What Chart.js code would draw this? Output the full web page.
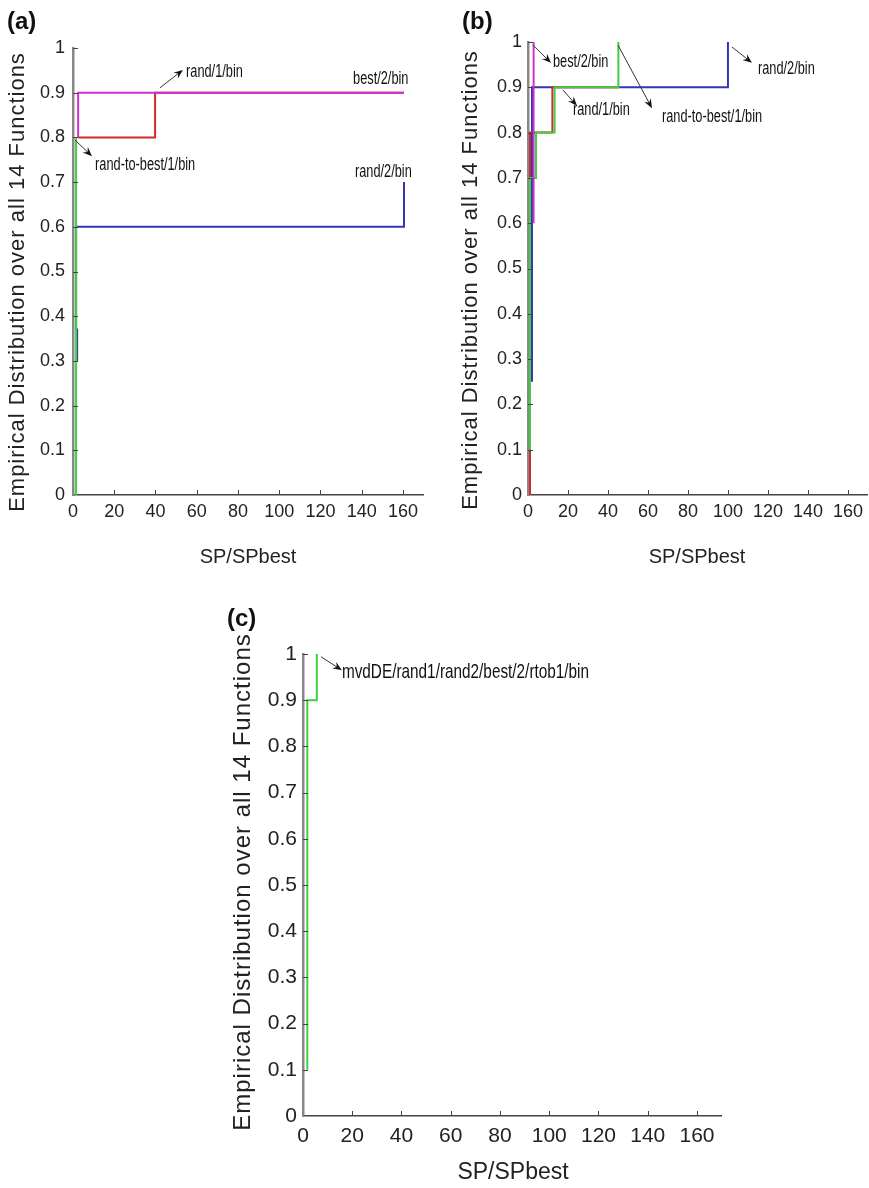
<!DOCTYPE html>
<html>
<head>
<meta charset="utf-8">
<title>Empirical distribution of SP/SPbest</title>
<script src="https://cdn.jsdelivr.net/npm/chart.js@4.4.1/dist/chart.umd.min.js"></script>
<style>
  body { margin: 0; background: #fff; width: 869px; height: 1188px; position: relative; overflow: hidden; }
  .panel { position: absolute; }
  .tag { position: absolute; font: bold 24px 'Liberation Sans', Arial, sans-serif; line-height: 1; color: #111; }
</style>
</head>
<body>
<div class="panel" style="left:0;top:0"><canvas id="chartA" width="440" height="590"></canvas></div>
<div class="panel" style="left:440px;top:0"><canvas id="chartB" width="429" height="590"></canvas></div>
<div class="panel" style="left:200px;top:590px"><canvas id="chartC" width="560" height="598"></canvas></div>
<div class="tag" style="left:7px;top:9px">(a)</div>
<div class="tag" style="left:462px;top:9px">(b)</div>
<div class="tag" style="left:227px;top:606px">(c)</div>
<script>
// --- valores (x = SP/SPbest, y = distribución empírica) ---
const xTicks = [0, 20, 40, 60, 80, 100, 120, 140, 160];
const yTicks = [0, 0.1, 0.2, 0.3, 0.4, 0.5, 0.6, 0.7, 0.8, 0.9, 1];

// panel (a)
const aBest2X = [2.5, 2.5, 160.5];
const aBest2Y = [0.8, 0.9, 0.9];
const aRtb1X = [1.5, 1.5];
const aRtb1Y = [0, 0.8];
const aRand1X = [2.5, 39.8, 160.5];
const aRand1Y = [0.8, 0.9, 0.9];
const aRand2X = [2, 2, 1.5, 160.5];
const aRand2Y = [0.3, 0.37, 0.6, 0.7];

// panel (b)
const bBest2X = [2.8, 2.8];
const bBest2Y = [0.6, 1.0];
const bRtb1X = [1, 1, 4, 13.3, 45.2];
const bRtb1Y = [0.1, 0.7, 0.8, 0.9, 1.0];
const bRand1X = [1, 1, 12.2, 45];
const bRand1Y = [0, 0.8, 0.9, 0.9];
const bRand2X = [2, 2, 100];
const bRand2Y = [0.25, 0.9, 1.0];

// panel (c)
const cMvdeX = [1.75, 1.75, 5.6];
const cMvdeY = [0.1, 0.9, 1.0];

// etiquetas con flecha (coordenadas en unidades de datos)
const aNotes = [
  { text: 'rand/1/bin', at: [54.8, 0.946], from: [42.2, 0.911], to: [53.3, 0.951] },
  { text: 'best/2/bin', at: [135.8, 0.931] },
  { text: 'rand-to-best/1/bin', at: [10.7, 0.738], from: [1.0, 0.794], to: [9.2, 0.758] },
  { text: 'rand/2/bin', at: [136.7, 0.723] }
];
const bNotes = [
  { text: 'best/2/bin', at: [12.5, 0.956], from: [2.5, 0.993], to: [11.5, 0.954] },
  { text: 'rand/1/bin', at: [22.5, 0.850], from: [17.5, 0.894], to: [24.5, 0.859] },
  { text: 'rand-to-best/1/bin', at: [67, 0.834], from: [45, 0.993], to: [62, 0.854] },
  { text: 'rand/2/bin', at: [115, 0.940], from: [102, 0.989], to: [112, 0.954] }
];
const cNotes = [
  { text: 'mvdDE/rand1/rand2/best/2/rtob1/bin', at: [15.8, 0.961], from: [7.3, 0.994], to: [15.8, 0.965] }
];

const yTitle = 'Empirical Distribution over all 14 Functions';
const xTitle = 'SP/SPbest';

const MAGENTA = '#cc33cc', GREEN = '#3fcf3f', RED = '#d12b2b', BLUE = '#3535b5';
const regular = "'Liberation Sans', Arial, sans-serif";

const pts = (xs, ys) => xs.map((x, i) => ({ x: x, y: ys[i] }));

function serie(label, xs, ys, color) {
  return {
    label: label,
    data: pts(xs, ys),
    borderColor: color,
    borderWidth: 2,
    pointRadius: 0,
    stepped: 'before',
    fill: false
  };
}

// dibuja ticks hacia dentro, títulos de ejes y anotaciones
const annotate = {
  id: 'annotate',
  afterDraw(chart, args, opts) {
    const { ctx, chartArea } = chart;
    const xs = chart.scales.x, ys = chart.scales.y;
    ctx.save();

    // ticks interiores (estilo MATLAB)
    ctx.strokeStyle = '#444';
    ctx.lineWidth = 1;
    xs.ticks.forEach(t => {
      if (t.value === 0) return;
      const px = Math.round(xs.getPixelForValue(t.value)) + 0.5;
      ctx.beginPath();
      ctx.moveTo(px, chartArea.bottom);
      ctx.lineTo(px, chartArea.bottom - 5);
      ctx.stroke();
    });
    ys.ticks.forEach(t => {
      if (t.value === 0) return;
      const py = Math.round(ys.getPixelForValue(t.value)) + 0.5;
      ctx.beginPath();
      ctx.moveTo(chartArea.left, py);
      ctx.lineTo(chartArea.left + 5, py);
      ctx.stroke();
    });

    // flechas y textos (texto estrechado, como Arial Narrow)
    ctx.fillStyle = '#111';
    ctx.font = opts.noteSize + 'px ' + regular;
    ctx.textAlign = 'left';
    ctx.textBaseline = 'middle';
    (opts.notes || []).forEach(n => {
      if (n.from) {
        const x1 = xs.getPixelForValue(n.from[0]), y1 = ys.getPixelForValue(n.from[1]);
        const x2 = xs.getPixelForValue(n.to[0]), y2 = ys.getPixelForValue(n.to[1]);
        const ang = Math.atan2(y2 - y1, x2 - x1);
        const L = 10, w = 0.38;
        ctx.strokeStyle = '#333';
        ctx.beginPath();
        ctx.moveTo(x1, y1);
        ctx.lineTo(x2 - Math.cos(ang) * 5, y2 - Math.sin(ang) * 5);
        ctx.stroke();
        ctx.beginPath();
        ctx.moveTo(x2, y2);
        ctx.lineTo(x2 - L * Math.cos(ang - w), y2 - L * Math.sin(ang - w));
        ctx.lineTo(x2 - L * 0.6 * Math.cos(ang), y2 - L * 0.6 * Math.sin(ang));
        ctx.lineTo(x2 - L * Math.cos(ang + w), y2 - L * Math.sin(ang + w));
        ctx.closePath();
        ctx.fill();
      }
      ctx.save();
      ctx.translate(xs.getPixelForValue(n.at[0]), ys.getPixelForValue(n.at[1]));
      ctx.scale(0.73, 1);
      ctx.fillText(n.text, 0, 0);
      ctx.restore();
    });

    // títulos de los ejes
    ctx.fillStyle = '#222';
    ctx.textAlign = 'center';
    ctx.font = opts.xTitleSize + 'px ' + regular;
    ctx.fillText(xTitle, opts.xTitlePos[0], opts.xTitlePos[1]);
    ctx.translate(opts.yTitlePos[0], opts.yTitlePos[1]);
    ctx.rotate(-Math.PI / 2);
    ctx.font = opts.yTitleSize + 'px ' + regular;
    if ('letterSpacing' in ctx) ctx.letterSpacing = '1px';
    ctx.fillText(yTitle, 0, 0);
    ctx.restore();
  }
};

function makePanel(id, datasets, cfg) {
  const tickFont = { family: regular, size: cfg.tickSize };
  return new Chart(document.getElementById(id), {
    type: 'line',
    data: { datasets: datasets },
    options: {
      responsive: false,
      animation: false,
      events: [],
      layout: { padding: cfg.pad },
      plugins: {
        legend: { display: false },
        tooltip: { enabled: false },
        annotate: cfg.annot
      },
      scales: {
        x: {
          type: 'linear',
          min: 0,
          max: 170,
          afterFit: s => { s.height = cfg.xH; },
          afterBuildTicks: s => { s.ticks = xTicks.map(v => ({ value: v })); },
          ticks: { font: tickFont, color: '#222', padding: cfg.xPad, maxRotation: 0, autoSkip: false,
                   callback: v => String(v) },
          grid: { drawOnChartArea: false, drawTicks: false },
          border: { color: '#444', width: 1.5 }
        },
        y: {
          type: 'linear',
          min: 0,
          max: 1,
          afterFit: s => { s.width = cfg.yW; },
          afterBuildTicks: s => { s.ticks = yTicks.map(v => ({ value: v })); },
          ticks: { font: tickFont, color: '#222', padding: cfg.yPad, autoSkip: false,
                   callback: v => String(v) },
          grid: { drawOnChartArea: false, drawTicks: false },
          border: { color: '#888', width: 2.5 }
        }
      }
    },
    plugins: [annotate]
  });
}

// (a)
makePanel('chartA', [
  serie('best/2/bin', aBest2X, aBest2Y, MAGENTA),
  serie('rand-to-best/1/bin', aRtb1X, aRtb1Y, GREEN),
  serie('rand/1/bin', aRand1X, aRand1Y, RED),
  serie('rand/2/bin', aRand2X, aRand2Y, BLUE)
], {
  pad: { left: 0, top: 48, right: 16.4, bottom: 0 },
  yW: 73, xH: 95, tickSize: 18, xPad: 6, yPad: 8,
  annot: { notes: aNotes, noteSize: 17.5, xTitleSize: 20, xTitlePos: [248, 557], yTitleSize: 22, yTitlePos: [18, 282] }
});

// (b)
makePanel('chartB', [
  serie('best/2/bin', bBest2X, bBest2Y, MAGENTA),
  serie('rand-to-best/1/bin', bRtb1X, bRtb1Y, GREEN),
  serie('rand/1/bin', bRand1X, bRand1Y, RED),
  serie('rand/2/bin', bRand2X, bRand2Y, BLUE)
], {
  pad: { left: 0, top: 42, right: 1, bottom: 0 },
  yW: 88, xH: 95, tickSize: 18, xPad: 6, yPad: 6,
  annot: { notes: bNotes, noteSize: 17.5, xTitleSize: 20, xTitlePos: [257, 557], yTitleSize: 22, yTitlePos: [31, 280] }
});

// (c)
makePanel('chartC', [
  serie('mvdDE/rand1/rand2/best/2/rtob1/bin', cMvdeX, cMvdeY, GREEN)
], {
  pad: { left: 0, top: 64, right: 38.4, bottom: 0 },
  yW: 103, xH: 72, tickSize: 21, xPad: 8, yPad: 6,
  annot: { notes: cNotes, noteSize: 21, xTitleSize: 23, xTitlePos: [313, 583], yTitleSize: 24, yTitlePos: [43, 292] }
});
</script>
</body>
</html>
